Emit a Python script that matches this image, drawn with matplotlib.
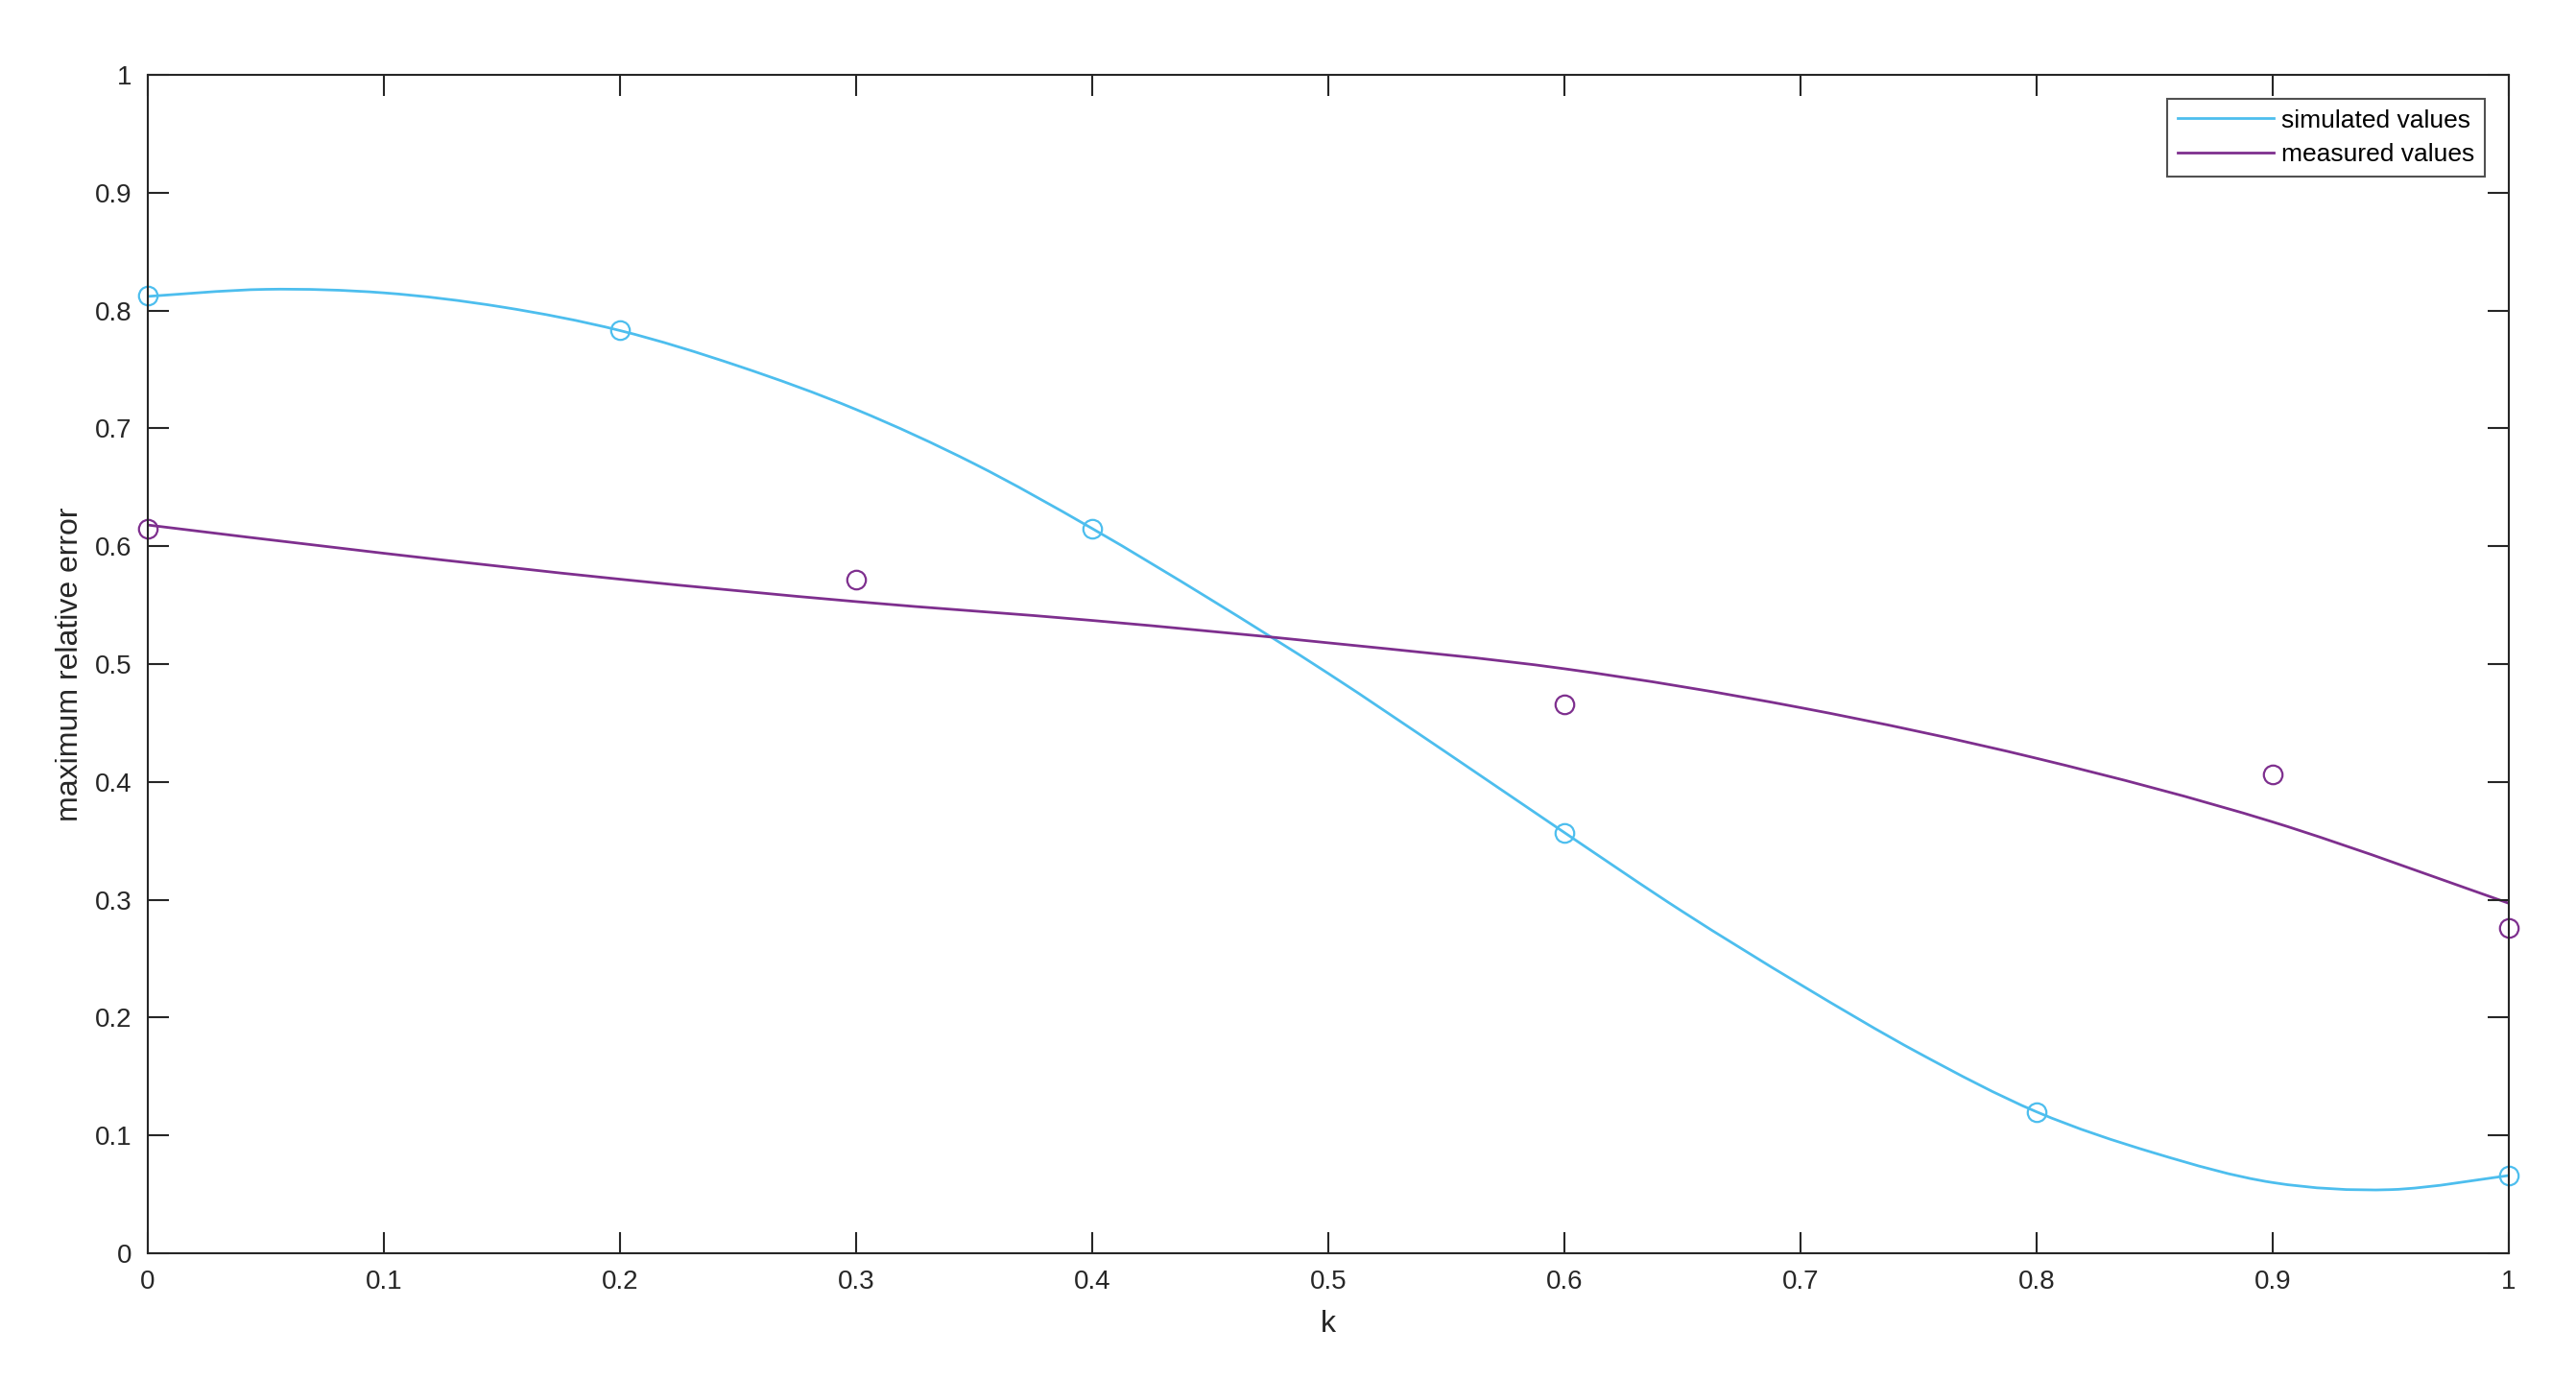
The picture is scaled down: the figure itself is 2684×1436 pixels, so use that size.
import numpy as np
import matplotlib
matplotlib.use("Agg")
import matplotlib.pyplot as plt
from matplotlib.path import Path
from matplotlib.patches import PathPatch
from matplotlib.lines import Line2D

plt.rcParams['font.family'] = ['Liberation Sans', 'DejaVu Sans']

# ---- 数据 ----
# 仿真值：离散点
k_sim = [0.0, 0.2, 0.4, 0.6, 0.8, 1.0]
err_sim = [0.813, 0.783, 0.615, 0.357, 0.120, 0.066]

# 仿真值：拟合曲线（按 0.05 间隔读取）
k_sim_curve = [0.00, 0.05, 0.10, 0.15, 0.20, 0.25, 0.30, 0.35, 0.40, 0.45, 0.50,
               0.55, 0.60, 0.65, 0.70, 0.75, 0.80, 0.85, 0.90, 0.95, 1.00]
err_sim_curve = [0.812, 0.818, 0.815, 0.803, 0.783, 0.753, 0.716, 0.670, 0.615, 0.555, 0.492,
                 0.425, 0.357, 0.290, 0.228, 0.170, 0.120, 0.085, 0.060, 0.054, 0.066]

# 实测值：离散点
k_meas = [0.0, 0.3, 0.6, 0.9, 1.0]
err_meas = [0.615, 0.572, 0.466, 0.406, 0.276]

# 实测值：拟合曲线
k_meas_curve = [0.0, 0.1, 0.2, 0.3, 0.4, 0.5, 0.6, 0.7, 0.8, 0.9, 1.0]
err_meas_curve = [0.618, 0.594, 0.572, 0.553, 0.537, 0.518, 0.496, 0.463, 0.420, 0.366, 0.297]

c_sim = '#4DBEEE'
c_meas = '#7E2F8E'
axis_col = '#262626'


def smooth_path(xs, ys):
    """把读出的曲线点连成平滑的三次贝塞尔路径（Catmull-Rom）"""
    pts = np.column_stack([xs, ys])
    verts = [pts[0]]
    codes = [Path.MOVETO]
    n = len(pts)
    for i in range(n - 1):
        p0 = pts[i - 1] if i > 0 else pts[i]
        p1, p2 = pts[i], pts[i + 1]
        p3 = pts[i + 2] if i + 2 < n else pts[i + 1]
        verts += [p1 + (p2 - p0) / 6, p2 - (p3 - p1) / 6, p2]
        codes += [Path.CURVE4] * 3
    return Path(verts, codes)


fig = plt.figure(figsize=(26.84, 14.36), dpi=100)
ax = fig.add_axes([154 / 2684, 1 - 1306 / 1436, (2614 - 154) / 2684, (1306 - 78) / 1436])

for xs, ys, c in [(k_sim_curve, err_sim_curve, c_sim), (k_meas_curve, err_meas_curve, c_meas)]:
    ax.add_patch(PathPatch(smooth_path(xs, ys), facecolor='none', edgecolor=c, lw=2.0))

ax.plot(k_sim, err_sim, 'o', mfc='none', mec=c_sim, ms=14, mew=1.6, clip_on=False)
ax.plot(k_meas, err_meas, 'o', mfc='none', mec=c_meas, ms=14, mew=1.6, clip_on=False)

ax.set_xlim(0, 1)
ax.set_ylim(0, 1)
ticks = np.arange(0, 1.01, 0.1)
tick_labels = ['0', '0.1', '0.2', '0.3', '0.4', '0.5', '0.6', '0.7', '0.8', '0.9', '1']
ax.set_xticks(ticks)
ax.set_yticks(ticks)
ax.set_xticklabels(tick_labels)
ax.set_yticklabels(tick_labels)
ax.tick_params(direction='in', length=16, width=1.5, color=axis_col, labelcolor=axis_col,
               labelsize=20, top=True, right=True, pad=12)
for s in ax.spines.values():
    s.set_color(axis_col)
    s.set_linewidth(1.5)

ax.set_xlabel('k', fontsize=23, color=axis_col, labelpad=12)
ax.set_ylabel('maximum relative error', fontsize=23, color=axis_col, labelpad=8)

handles = [Line2D([], [], color=c_sim, lw=2.0), Line2D([], [], color=c_meas, lw=2.0)]
leg = ax.legend(handles, ['simulated values', 'measured values'], loc='upper right',
                fontsize=19, frameon=True, fancybox=False, edgecolor=axis_col,
                borderaxespad=0.95, handlelength=3.8, handletextpad=0.3,
                borderpad=0.4, labelspacing=0.45)
leg.get_frame().set_linewidth(1.5)

fig.savefig('out.png', dpi=100)
